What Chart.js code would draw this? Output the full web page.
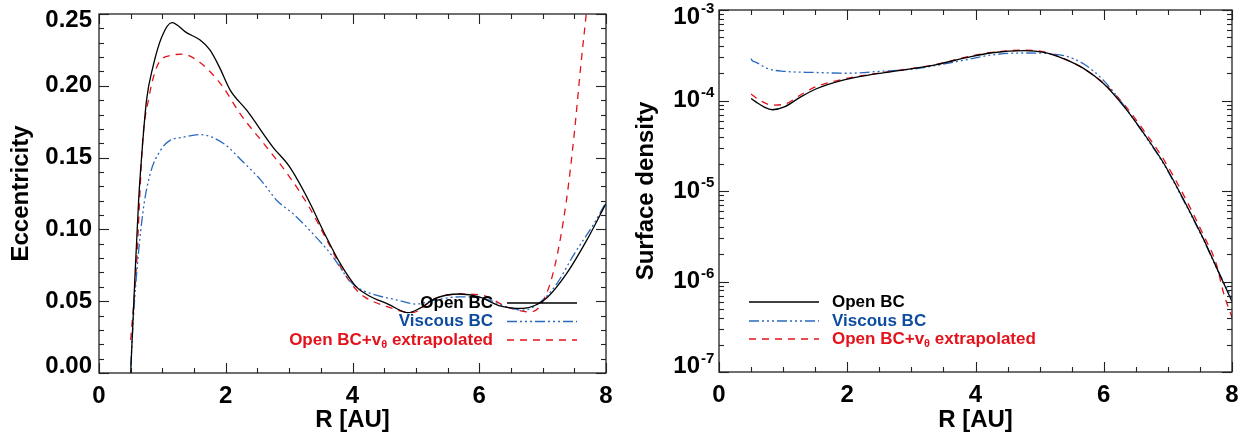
<!DOCTYPE html>
<html><head><meta charset="utf-8">
<script src="https://cdn.jsdelivr.net/npm/chart.js@4.4.0/dist/chart.umd.min.js"></script>
<style>
html,body{margin:0;padding:0;background:#fff;}
#wrap{position:relative;width:1251px;height:439px;overflow:hidden;}
#c1{position:absolute;left:0;top:0;}
#c2{position:absolute;left:625px;top:0;}
</style></head><body>
<div id="wrap">
<canvas id="c1" width="625" height="439"></canvas>
<canvas id="c2" width="626" height="439"></canvas>
</div>
<script>
// ---------- data ----------
const seriesNames = ['Open BC', 'Viscous BC', 'Open BC+v\u03B8 extrapolated'];
const xTickValues = [0, 2, 4, 6, 8];
const eccTickValues = [0, 0.05, 0.10, 0.15, 0.20, 0.25];
const eccTickLabels = ['0.00', '0.05', '0.10', '0.15', '0.20', '0.25'];
const sigmaTickExponents = [-7, -6, -5, -4, -3];

// Left panel: eccentricity
const rEccOpen = [0.5, 0.56, 0.625, 0.68, 0.75, 0.85, 0.99, 1.15, 1.38, 1.59, 1.75, 1.9, 2.07, 2.33, 2.75, 3.0, 3.31, 3.56, 3.81, 4.06, 4.25, 4.56, 4.875, 5.06, 5.31, 5.69, 6.0, 6.31, 6.69, 6.875, 7.06, 7.375, 7.69, 8.0];
const eccOpen = [0.0, 0.06, 0.12, 0.155, 0.19, 0.213, 0.234, 0.244, 0.237, 0.232, 0.225, 0.213, 0.197, 0.183, 0.157, 0.144, 0.120, 0.097, 0.076, 0.060, 0.054, 0.048, 0.042, 0.045, 0.052, 0.055, 0.053, 0.047, 0.045, 0.047, 0.052, 0.069, 0.092, 0.118];

const rEccVisc = [0.5, 0.56, 0.69, 0.81, 0.97, 1.12, 1.31, 1.59, 1.96, 2.25, 2.56, 2.81, 3.06, 3.375, 3.69, 3.94, 4.06, 4.31, 4.69, 5.0, 5.31, 5.69, 6.06, 6.44, 6.69, 6.875, 7.19, 7.5, 7.81, 8.0];
const eccVisc = [0.005, 0.05, 0.111, 0.139, 0.155, 0.162, 0.164, 0.166, 0.160, 0.148, 0.134, 0.120, 0.111, 0.097, 0.081, 0.065, 0.060, 0.055, 0.051, 0.048, 0.051, 0.053, 0.052, 0.046, 0.0437, 0.0465, 0.060, 0.083, 0.104, 0.119];

const rEccExt = [0.5, 0.59, 0.69, 0.78, 0.91, 1.12, 1.33, 1.54, 1.75, 1.96, 2.22, 2.65, 3.0, 3.31, 3.625, 3.875, 4.06, 4.19, 4.56, 4.94, 5.31, 5.69, 6.06, 6.44, 6.81, 7.0, 7.19, 7.375, 7.5, 7.6, 7.7, 7.8];
const eccExt = [0.023, 0.074, 0.162, 0.19, 0.213, 0.221, 0.222, 0.218, 0.210, 0.199, 0.181, 0.157, 0.137, 0.116, 0.090, 0.069, 0.058, 0.053, 0.046, 0.042, 0.052, 0.055, 0.054, 0.046, 0.0425, 0.0495, 0.074, 0.120, 0.167, 0.213, 0.255, 0.30];

// Right panel: surface density
const rSigOpen = [0.5, 0.58, 0.7, 0.83, 1.02, 1.27, 1.51, 1.95, 2.39, 2.89, 3.39, 3.88, 4.26, 4.76, 5.07, 5.38, 5.69, 6.0, 6.32, 6.63, 6.94, 7.25, 7.56, 7.75, 8.0];
const sigOpen = [1.05e-4, 9.6e-5, 8.5e-5, 7.9e-5, 8.5e-5, 1.09e-4, 1.34e-4, 1.69e-4, 1.94e-4, 2.18e-4, 2.49e-4, 3.0e-4, 3.37e-4, 3.56e-4, 3.4e-4, 2.88e-4, 2.25e-4, 1.53e-4, 8.5e-5, 4.28e-5, 2.0e-5, 7.9e-6, 2.9e-6, 1.47e-6, 6.0e-7];

const rSigVisc = [0.5, 0.52, 0.58, 0.77, 1.02, 1.51, 2.01, 2.51, 3.01, 3.39, 3.88, 4.26, 4.76, 5.13, 5.38, 5.69, 6.0, 6.32, 6.63, 6.94, 7.25, 7.56, 7.75, 8.0];
const sigVisc = [2.9e-4, 2.75e-4, 2.64e-4, 2.24e-4, 2.1e-4, 2.04e-4, 2.0e-4, 2.1e-4, 2.22e-4, 2.44e-4, 2.84e-4, 3.19e-4, 3.35e-4, 3.3e-4, 3.13e-4, 2.53e-4, 1.66e-4, 8.7e-5, 4.2e-5, 1.95e-5, 7.7e-6, 2.85e-6, 1.45e-6, 6.6e-7];

const rSigExt = [0.5, 0.64, 0.83, 1.02, 1.27, 1.51, 1.95, 2.39, 2.89, 3.39, 3.88, 4.26, 4.76, 5.07, 5.38, 5.69, 6.0, 6.32, 6.63, 6.94, 7.25, 7.56, 7.75, 7.87, 8.0];
const sigExt = [1.18e-4, 1.0e-4, 8.9e-5, 9.1e-5, 1.15e-4, 1.42e-4, 1.73e-4, 1.96e-4, 2.2e-4, 2.5e-4, 3.05e-4, 3.4e-4, 3.6e-4, 3.45e-4, 2.9e-4, 2.25e-4, 1.55e-4, 9.0e-5, 4.6e-5, 2.2e-5, 8.9e-6, 3.2e-6, 1.6e-6, 7.4e-7, 4.0e-7];

// ---------- styles ----------
const COLORS = ['#000000', '#2a68bd', '#e3121b'];
const TEXT_COLORS = ['#000000', '#0d4c9e', '#e3121b'];
const DASHES = [[], [10, 3, 2, 3, 2, 3, 2, 3], [7, 6]];
const FONT = '"Liberation Sans", Arial, Helvetica, sans-serif';

function pts(xs, ys) { return xs.map((v, i) => ({ x: v, y: ys[i] })); }
function ds(i, xs, ys) {
  return {
    label: seriesNames[i], data: pts(xs, ys), borderColor: COLORS[i], backgroundColor: COLORS[i],
    borderWidth: 1.3, borderDash: DASHES[i], pointRadius: 0, fill: false, cubicInterpolationMode: 'monotone'
  };
}

function line(ctx, x1, y1, x2, y2) { ctx.beginPath(); ctx.moveTo(x1, y1); ctx.lineTo(x2, y2); ctx.stroke(); }

function drawFrameAndTicks(chart, yMajor, yMinor) {
  const { ctx, chartArea: a, scales: { x, y } } = chart;
  ctx.save();
  ctx.strokeStyle = '#222'; ctx.lineWidth = 1.3; ctx.setLineDash([]);
  ctx.strokeRect(a.left, a.top, a.right - a.left, a.bottom - a.top);
  ctx.lineWidth = 1.1;
  const MAJ = 10, MIN = 5;
  for (let v = 0; v <= 8.0001; v += 0.5) {
    const px = Math.round(x.getPixelForValue(v)) + 0.5;
    const L = (Math.abs(v / 2 - Math.round(v / 2)) < 1e-6) ? MAJ : MIN;
    line(ctx, px, a.bottom, px, a.bottom - L);
    line(ctx, px, a.top, px, a.top + L);
  }
  yMajor.forEach(v => { const py = Math.round(y.getPixelForValue(v)) + 0.5; line(ctx, a.left, py, a.left + MAJ, py); line(ctx, a.right, py, a.right - MAJ, py); });
  yMinor.forEach(v => { const py = Math.round(y.getPixelForValue(v)) + 0.5; line(ctx, a.left, py, a.left + MIN, py); line(ctx, a.right, py, a.right - MIN, py); });
  ctx.restore();
}

function legendParts(i) {
  if (i === 2) return [{ t: 'Open BC+v', s: 17, dy: 0 }, { t: '\u03B8', s: 11, dy: 5 }, { t: ' extrapolated', s: 17, dy: 0 }];
  return [{ t: seriesNames[i], s: 17, dy: 0 }];
}
function partsWidth(ctx, parts) { let w = 0; parts.forEach(p => { ctx.font = 'bold ' + p.s + 'px ' + FONT; w += ctx.measureText(p.t).width; }); return w; }
function drawParts(ctx, parts, x, y, color) {
  ctx.fillStyle = color; ctx.textAlign = 'left'; ctx.textBaseline = 'middle';
  parts.forEach(p => { ctx.font = 'bold ' + p.s + 'px ' + FONT; ctx.fillText(p.t, x, y + p.dy); x += ctx.measureText(p.t).width; });
}
function drawLegend(chart, rows, lineX1, lineX2, textAnchor, alignRight) {
  const ctx = chart.ctx;
  ctx.save();
  rows.forEach((ry, i) => {
    ctx.strokeStyle = COLORS[i]; ctx.lineWidth = 1.3; ctx.setLineDash(DASHES[i]);
    line(ctx, lineX1, ry, lineX2, ry);
    ctx.setLineDash([]);
    const parts = legendParts(i);
    const w = partsWidth(ctx, parts);
    drawParts(ctx, parts, alignRight ? textAnchor - w : textAnchor, ry, TEXT_COLORS[i]);
  });
  ctx.restore();
}

const eccMinor = [];
for (let k = 0; k <= 25; k++) { if (k % 5 !== 0) eccMinor.push(k / 100); }
const sigMajor = sigmaTickExponents.map(e => Math.pow(10, e));
const sigMinor = [];
sigmaTickExponents.slice(0, -1).forEach(e => { for (let m = 2; m <= 9; m++) sigMinor.push(m * Math.pow(10, e)); });

const leftPlugin = {
  id: 'leftDecor',
  afterDraw(chart) {
    drawFrameAndTicks(chart, eccTickValues, eccMinor);
    const { ctx, scales: { y } } = chart;
    ctx.save();
    ctx.fillStyle = '#000'; ctx.font = 'bold 24px ' + FONT; ctx.textAlign = 'right'; ctx.textBaseline = 'middle';
    eccTickValues.forEach((v, i) => {
      const dy = i === 0 ? -7 : (i === eccTickValues.length - 1 ? 6 : 0);
      ctx.fillText(eccTickLabels[i], 92, y.getPixelForValue(v) + dy);
    });
    ctx.restore();
    drawLegend(chart, [303, 321.5, 340], 507, 577, 493, true);
  }
};
const rightPlugin = {
  id: 'rightDecor',
  afterDraw(chart) {
    drawFrameAndTicks(chart, sigMajor, sigMinor);
    const { ctx, scales: { y } } = chart;
    ctx.save();
    ctx.fillStyle = '#000'; ctx.textBaseline = 'middle';
    sigmaTickExponents.forEach((e, i) => {
      const dy = i === 0 ? -5.5 : (i === sigmaTickExponents.length - 1 ? 7 : 0);
      const py = y.getPixelForValue(Math.pow(10, e)) + dy;
      ctx.font = 'bold 24px ' + FONT; ctx.textAlign = 'right';
      ctx.fillText('10', 75, py);
      ctx.font = 'bold 15px ' + FONT; ctx.textAlign = 'left';
      ctx.fillText(String(e), 76, py - 8);
    });
    ctx.restore();
    drawLegend(chart, [302, 321, 339], 124, 194, 207, false);
  }
};

function xScale(h) {
  return {
    type: 'linear', min: 0, max: 8,
    grid: { display: false, drawTicks: false }, border: { display: false },
    ticks: { stepSize: 2, autoSkip: false, maxRotation: 0, padding: 9, color: '#000', font: { family: FONT, size: 24, weight: 'bold' } },
    title: { display: true, text: 'R [AU]', color: '#000', padding: { top: 0, bottom: 4 }, font: { family: FONT, size: 24, weight: 'bold' } },
    afterFit(s) { s.height = h; }
  };
}
function yTitle(text) {
  return { display: true, text: text, color: '#000', padding: { top: 7, bottom: 0 }, font: { family: FONT, size: 24, weight: 'bold' } };
}

Chart.defaults.font.family = FONT;

new Chart(document.getElementById('c1'), {
  type: 'line',
  data: { datasets: [ds(0, rEccOpen, eccOpen), ds(1, rEccVisc, eccVisc), ds(2, rEccExt, eccExt)] },
  options: {
    responsive: false, animation: false, devicePixelRatio: 1,
    layout: { padding: { top: 14, right: 19, bottom: 0, left: 0 } },
    plugins: { legend: { display: false }, tooltip: { enabled: false } },
    scales: {
      x: xScale(66),
      y: {
        type: 'linear', min: 0, max: 0.25,
        grid: { display: false, drawTicks: false }, border: { display: false },
        ticks: { display: false },
        title: yTitle('Eccentricity'),
        afterFit(s) { s.width = 99; }
      }
    }
  },
  plugins: [leftPlugin]
});

new Chart(document.getElementById('c2'), {
  type: 'line',
  data: { datasets: [ds(0, rSigOpen, sigOpen), ds(1, rSigVisc, sigVisc), ds(2, rSigExt, sigExt)] },
  options: {
    responsive: false, animation: false, devicePixelRatio: 1,
    layout: { padding: { top: 10, right: 19, bottom: 0, left: 0 } },
    plugins: { legend: { display: false }, tooltip: { enabled: false } },
    scales: {
      x: xScale(67),
      y: {
        type: 'logarithmic', min: 1e-7, max: 1e-3,
        grid: { display: false, drawTicks: false }, border: { display: false },
        ticks: { display: false },
        title: yTitle('Surface density'),
        afterFit(s) { s.width = 94; }
      }
    }
  },
  plugins: [rightPlugin]
});
</script>
</body></html>
